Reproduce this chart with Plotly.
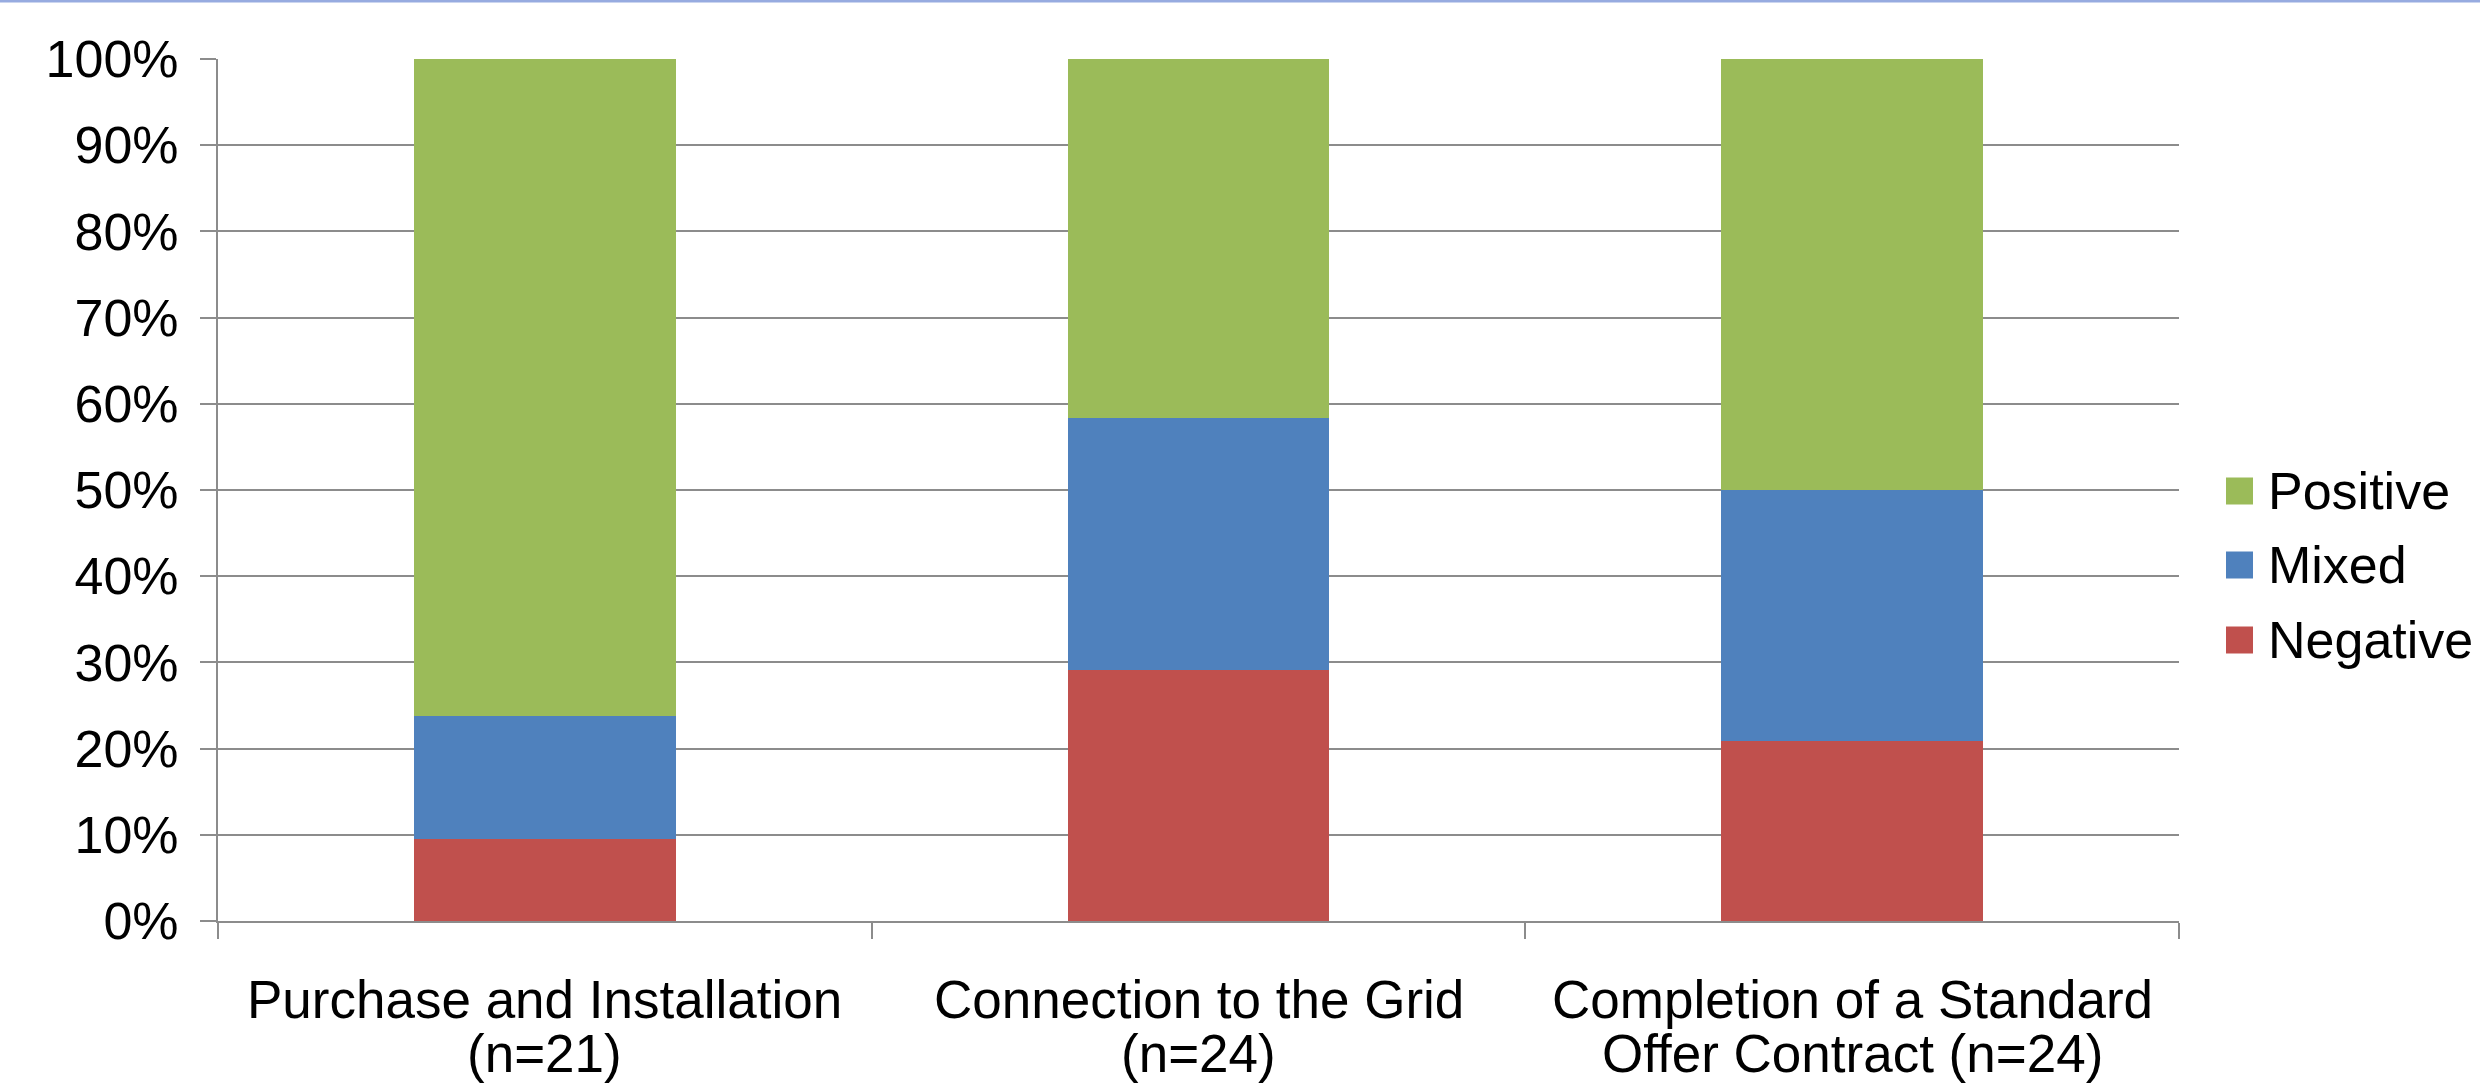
import plotly.graph_objects as go

# Survey responses per process step (counts of respondents)
category_labels = [
    "Purchase and Installation<br>(n=21)",
    "Connection to the Grid<br>(n=24)",
    "Completion of a Standard<br>Offer Contract (n=24)",
]
respondents = [21, 24, 24]
negative_counts = [2, 7, 5]
mixed_counts = [3, 7, 7]
positive_counts = [16, 10, 12]

series_names = ["Negative", "Mixed", "Positive"]
series_colors = ["#C0504D", "#4F81BD", "#9BBB59"]
y_ticks = [i / 10 for i in range(11)]

FONT = "Liberation Sans, Arial, sans-serif"
FS = 52
FS_CAT = 53
GRID = "#8C8C8C"

W, H = 2480, 1085
ML, MR, MT, MB = 218, 301, 59, 164
PW, PH = W - ML - MR, H - MT - MB

fig = go.Figure()
for name, counts, color in zip(series_names,
                               [negative_counts, mixed_counts, positive_counts],
                               series_colors):
    shares = [c / n for c, n in zip(counts, respondents)]
    fig.add_trace(go.Bar(
        x=category_labels, y=shares, name=name,
        marker=dict(color=color, line=dict(width=0)),
        width=0.4, showlegend=False,
    ))


def px_x(p):
    return (p - ML) / PW


def px_y(p):
    return (H - MB - p) / PH


annotations = []
# category labels, one annotation per line for tight line spacing
for cat in category_labels:
    for k, line in enumerate(cat.split("<br>")):
        annotations.append(dict(
            x=cat, xref="x", y=0, yref="paper", yanchor="middle",
            yshift=-(78 + 54 * k), text=line, showarrow=False,
            font=dict(family=FONT, size=FS_CAT, color="black"),
        ))

# legend drawn as swatches + text (top to bottom: Positive, Mixed, Negative)
shapes = []
legend_centers = [491, 565, 640]
for (name, color), cy in zip(list(zip(series_names, series_colors))[::-1], legend_centers):
    shapes.append(dict(
        type="rect", xref="paper", yref="paper",
        x0=px_x(2226), x1=px_x(2253), y0=px_y(cy + 13.5), y1=px_y(cy - 13.5),
        fillcolor=color, line=dict(width=0),
    ))
    annotations.append(dict(
        x=px_x(2266), y=px_y(cy), xref="paper", yref="paper",
        xanchor="left", yanchor="middle", text=name, showarrow=False,
        font=dict(family=FONT, size=FS, color="black"),
    ))

# thin rule along the top edge of the page
shapes.append(dict(
    type="line", xref="paper", yref="paper",
    x0=px_x(0), x1=px_x(W), y0=px_y(1), y1=px_y(1),
    line=dict(color="#97ABE0", width=3),
))

fig.update_layout(
    width=W, height=H,
    margin=dict(l=ML, r=MR, t=MT, b=MB, pad=0),
    barmode="stack",
    plot_bgcolor="white", paper_bgcolor="white",
    font=dict(family=FONT, size=FS, color="black"),
    showlegend=False,
    annotations=annotations,
    shapes=shapes,
    xaxis=dict(
        type="category", range=[-0.5, 2.5],
        showline=True, linecolor=GRID, linewidth=2,
        ticks="outside", tickson="boundaries", ticklen=16,
        tickwidth=2, tickcolor=GRID,
        showticklabels=False, showgrid=False, zeroline=False,
        fixedrange=True,
    ),
    yaxis=dict(
        range=[0, 1], tickvals=y_ticks, tickformat=".0%",
        showline=True, linecolor=GRID, linewidth=2,
        ticks="outside", ticklen=16, tickwidth=2, tickcolor=GRID,
        showgrid=True, gridcolor=GRID, gridwidth=2,
        zeroline=False,
        tickfont=dict(family=FONT, size=FS, color="black"),
        ticklabelstandoff=11,
        fixedrange=True,
    ),
)

fig.write_html("out.html")
